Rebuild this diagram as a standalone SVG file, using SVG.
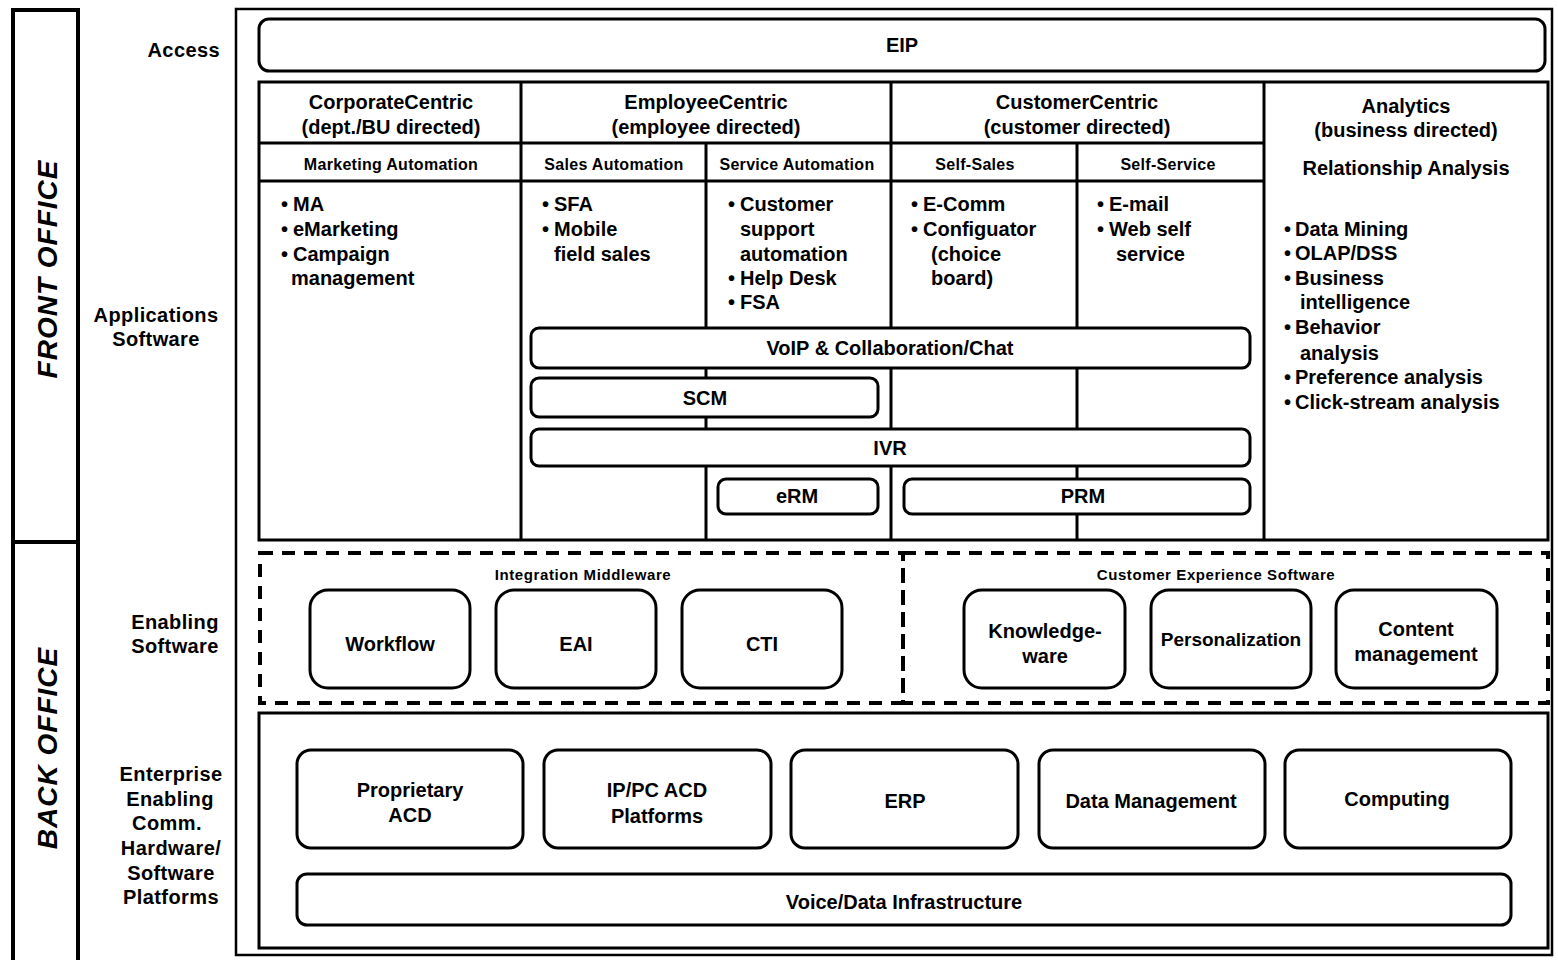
<svg xmlns="http://www.w3.org/2000/svg" width="1558" height="960" viewBox="0 0 1558 960">
<style>
text{font-family:"Liberation Sans",Arial,sans-serif;font-weight:bold;fill:#000}
.lbl{font-size:20px;text-anchor:middle;letter-spacing:0.4px}
.side{font-size:28px;font-style:italic;text-anchor:middle;letter-spacing:1px}
.hdr{font-size:20px;text-anchor:middle}
.sub{font-size:16px;text-anchor:middle;letter-spacing:0.3px}
.bul{font-size:20px}
.dot{font-size:20px}
.box{font-size:20px;text-anchor:middle}
.ttl{font-size:15px;text-anchor:middle;letter-spacing:0.6px}
.frame{fill:none;stroke:#000;stroke-width:4}
.outer{fill:none;stroke:#000;stroke-width:2.5}
.tbl{fill:none;stroke:#000;stroke-width:3}
.rb{fill:#fff;stroke:#000;stroke-width:3}
.dash{fill:none;stroke:#000;stroke-width:4;stroke-dasharray:13 9}
</style>

<g id="side-bars">
<rect class="frame" x="13" y="10" width="65" height="532"/>
<rect class="frame" x="13" y="542" width="65" height="430"/>
<text class="side" transform="translate(57,269) rotate(-90)">FRONT OFFICE</text>
<text class="side" transform="translate(57,748) rotate(-90)">BACK OFFICE</text>
</g>

<g id="row-labels">
<text class="lbl" x="220" y="57" style="text-anchor:end">Access</text>
<text class="lbl" x="156" y="322">Applications</text>
<text class="lbl" x="156" y="346">Software</text>
<text class="lbl" x="175" y="629">Enabling</text>
<text class="lbl" x="175" y="653">Software</text>
<text class="lbl" x="171" y="781">Enterprise</text>
<text class="lbl" x="170" y="806">Enabling</text>
<text class="lbl" x="167" y="830">Comm.</text>
<text class="lbl" x="171" y="855">Hardware/</text>
<text class="lbl" x="171" y="880">Software</text>
<text class="lbl" x="171" y="904">Platforms</text>
</g>

<g id="main-frame">
<rect class="outer" x="236" y="9" width="1316" height="946"/>
</g>

<g id="eip">
<rect class="rb" x="259" y="19" width="1286" height="52" rx="10"/>
<text class="box" x="902" y="52">EIP</text>
</g>

<g id="apps-table">
<rect class="tbl" x="259" y="82" width="1289" height="458"/>
<line class="tbl" x1="521" y1="82" x2="521" y2="540"/>
<line class="tbl" x1="891" y1="82" x2="891" y2="540"/>
<line class="tbl" x1="1264" y1="82" x2="1264" y2="540"/>
<line class="tbl" x1="706" y1="143" x2="706" y2="540"/>
<line class="tbl" x1="1077" y1="143" x2="1077" y2="540"/>
<line class="tbl" x1="259" y1="143" x2="1264" y2="143"/>
<line class="tbl" x1="259" y1="181" x2="1264" y2="181"/>
</g>

<g id="corporate">
<text class="hdr" x="391" y="109">CorporateCentric</text>
<text class="hdr" x="391" y="134">(dept./BU directed)</text>
<text class="sub" x="391" y="170">Marketing Automation</text>
<text class="dot" x="281" y="211">•</text><text class="bul" x="293" y="211">MA</text>
<text class="dot" x="281" y="236">•</text><text class="bul" x="293" y="236">eMarketing</text>
<text class="dot" x="281" y="261">•</text><text class="bul" x="293" y="261">Campaign</text>
<text class="bul" x="291" y="285">management</text>
</g>

<g id="employee">
<text class="hdr" x="706" y="109">EmployeeCentric</text>
<text class="hdr" x="706" y="134">(employee directed)</text>
<text class="sub" x="614" y="170">Sales Automation</text>
<text class="sub" x="797" y="170">Service Automation</text>
<text class="dot" x="542" y="211">•</text><text class="bul" x="554" y="211">SFA</text>
<text class="dot" x="542" y="236">•</text><text class="bul" x="554" y="236">Mobile</text>
<text class="bul" x="554" y="261">field sales</text>
<text class="dot" x="728" y="211">•</text><text class="bul" x="740" y="211">Customer</text>
<text class="bul" x="740" y="236">support</text>
<text class="bul" x="740" y="261">automation</text>
<text class="dot" x="728" y="285">•</text><text class="bul" x="740" y="285">Help Desk</text>
<text class="dot" x="728" y="309">•</text><text class="bul" x="740" y="309">FSA</text>
</g>

<g id="customer">
<text class="hdr" x="1077" y="109">CustomerCentric</text>
<text class="hdr" x="1077" y="134">(customer directed)</text>
<text class="sub" x="975" y="170">Self-Sales</text>
<text class="sub" x="1168" y="170">Self-Service</text>
<text class="dot" x="911" y="211">•</text><text class="bul" x="923" y="211">E-Comm</text>
<text class="dot" x="911" y="236">•</text><text class="bul" x="923" y="236">Configuator</text>
<text class="bul" x="931" y="261">(choice</text>
<text class="bul" x="931" y="285">board)</text>
<text class="dot" x="1097" y="211">•</text><text class="bul" x="1109" y="211">E-mail</text>
<text class="dot" x="1097" y="236">•</text><text class="bul" x="1109" y="236">Web self</text>
<text class="bul" x="1116" y="261">service</text>
</g>

<g id="analytics">
<text class="hdr" x="1406" y="113">Analytics</text>
<text class="hdr" x="1406" y="137">(business directed)</text>
<text class="hdr" x="1406" y="175">Relationship Analysis</text>
<text class="dot" x="1284" y="236">•</text><text class="bul" x="1295" y="236">Data Mining</text>
<text class="dot" x="1284" y="260">•</text><text class="bul" x="1295" y="260">OLAP/DSS</text>
<text class="dot" x="1284" y="285">•</text><text class="bul" x="1295" y="285">Business</text>
<text class="bul" x="1300" y="309">intelligence</text>
<text class="dot" x="1284" y="334">•</text><text class="bul" x="1295" y="334">Behavior</text>
<text class="bul" x="1300" y="360">analysis</text>
<text class="dot" x="1284" y="384">•</text><text class="bul" x="1295" y="384">Preference analysis</text>
<text class="dot" x="1284" y="409">•</text><text class="bul" x="1295" y="409">Click-stream analysis</text>
</g>

<g id="voip"><rect class="rb" x="531" y="328" width="719" height="40" rx="8"/><text class="box" x="890" y="355">VoIP &amp; Collaboration/Chat</text></g>
<g id="scm"><rect class="rb" x="531" y="378" width="347" height="39" rx="8"/><text class="box" x="705" y="405">SCM</text></g>
<g id="ivr"><rect class="rb" x="531" y="429" width="719" height="37" rx="8"/><text class="box" x="890" y="455">IVR</text></g>
<g id="erm"><rect class="rb" x="718" y="479" width="160" height="35" rx="8"/><text class="box" x="797" y="503">eRM</text></g>
<g id="prm"><rect class="rb" x="904" y="479" width="346" height="35" rx="8"/><text class="box" x="1083" y="503">PRM</text></g>

<g id="integration-middleware">
<rect class="dash" x="260" y="553" width="643" height="150"/>
<text class="ttl" x="583" y="580">Integration Middleware</text>
</g>
<g id="customer-experience">
<rect class="dash" x="903" y="553" width="645" height="150"/>
<text class="ttl" x="1216" y="580">Customer Experience Software</text>
</g>

<g id="workflow"><rect class="rb" x="310" y="590" width="160" height="98" rx="18"/><text class="box" x="390" y="651">Workflow</text></g>
<g id="eai"><rect class="rb" x="496" y="590" width="160" height="98" rx="18"/><text class="box" x="576" y="651">EAI</text></g>
<g id="cti"><rect class="rb" x="682" y="590" width="160" height="98" rx="18"/><text class="box" x="762" y="651">CTI</text></g>
<g id="knowledgeware"><rect class="rb" x="964" y="590" width="161" height="98" rx="18"/><text class="box" x="1045" y="638">Knowledge-</text><text class="box" x="1045" y="663">ware</text></g>
<g id="personalization"><rect class="rb" x="1151" y="590" width="160" height="98" rx="18"/><text class="box" x="1231" y="646" style="font-size:19px">Personalization</text></g>
<g id="content-management"><rect class="rb" x="1336" y="590" width="161" height="98" rx="18"/><text class="box" x="1416" y="636">Content</text><text class="box" x="1416" y="661">management</text></g>

<g id="platforms">
<rect class="tbl" x="259" y="713" width="1289" height="235"/>
</g>
<g id="proprietary-acd"><rect class="rb" x="297" y="750" width="226" height="98" rx="14"/><text class="box" x="410" y="797">Proprietary</text><text class="box" x="410" y="822">ACD</text></g>
<g id="ippc-acd"><rect class="rb" x="544" y="750" width="227" height="98" rx="14"/><text class="box" x="657" y="797">IP/PC ACD</text><text class="box" x="657" y="823">Platforms</text></g>
<g id="erp"><rect class="rb" x="791" y="750" width="227" height="98" rx="14"/><text class="box" x="905" y="808">ERP</text></g>
<g id="data-management"><rect class="rb" x="1039" y="750" width="226" height="98" rx="14"/><text class="box" x="1151" y="808">Data Management</text></g>
<g id="computing"><rect class="rb" x="1285" y="750" width="226" height="98" rx="14"/><text class="box" x="1397" y="806">Computing</text></g>
<g id="voice-data"><rect class="rb" x="297" y="874" width="1214" height="51" rx="10"/><text class="box" x="904" y="909">Voice/Data Infrastructure</text></g>

<g id="connectors"></g>
</svg>
